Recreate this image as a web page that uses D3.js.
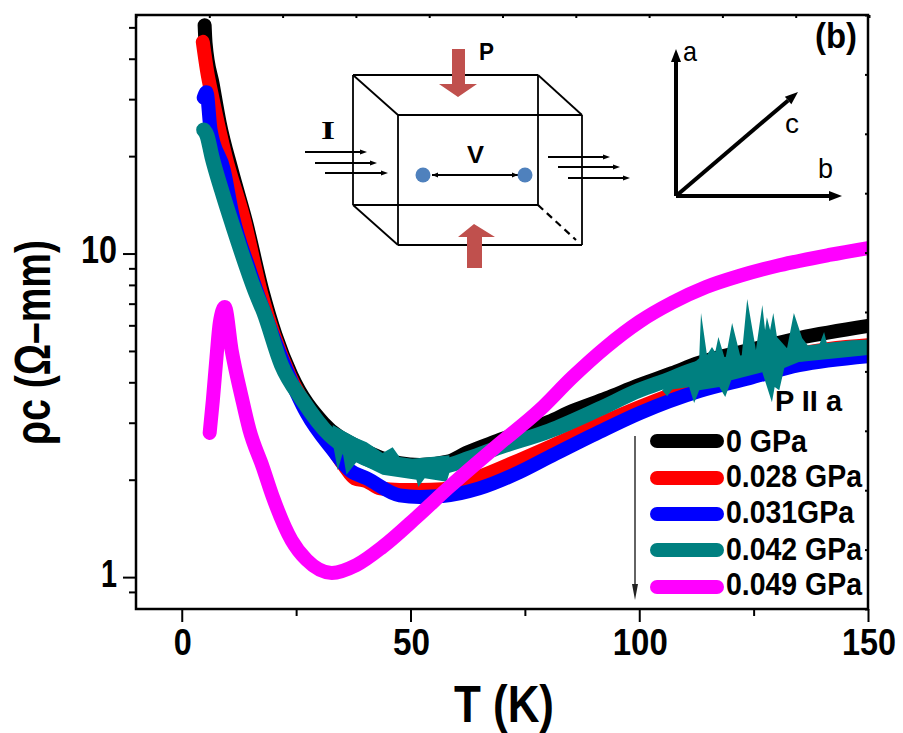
<!DOCTYPE html>
<html><head><meta charset="utf-8">
<script src="https://cdn.jsdelivr.net/npm/d3@7/dist/d3.min.js"></script>
<style>html,body{margin:0;padding:0;background:#fff}svg{display:block}text{font-family:"Liberation Sans",Arial,sans-serif}</style>
</head><body><svg id="c" width="903" height="733"></svg>
<script>
const seriesNames = ["0 GPa","0.028 GPa","0.031GPa","0.042 GPa","0.049 GPa"];
const seriesColors = ["#000000","#ff0000","#0000ff","#008080","#ff00ff"];
const T0 = [5,5.2,6.8,8.3,10.9,14,17.7,20.5,24,31,38.9,47.6,52,58.5,62.2,69.4,80.3,85.4,92.8,100,107.2,113,124,135,150];
const R0 = [50.8,44.8,33.2,25.3,18.1,12.6,7.6,5.6,4.2,2.99,2.51,2.25,2.22,2.28,2.42,2.65,3.02,3.26,3.57,3.92,4.27,4.59,5.03,5.48,5.97];
const T1 = [4.6,5.5,6.8,9.6,13.5,17.4,23.6,30.6,35.6,37.8,40.4,43.4,47.6,52,57,65,73.8,80.3,91.3,100,113,124,134.9,150];
const R1 = [45.1,36.9,29.8,19.9,12.9,7.5,4.2,2.85,2.2,2.02,1.98,1.88,1.86,1.86,1.87,2.04,2.3,2.52,2.97,3.35,3.92,4.36,4.89,5.21];
const T2 = [4.8,5.4,6.3,9.2,11.1,14.8,17.5,22.5,27.3,33,36.7,40.4,47.6,52,57,65,73.8,80.3,91.3,100,113.1,124,134.9,150];
const R2 = [30.3,31.5,24.1,18.1,13.15,8.9,6.9,4.5,3.21,2.47,2.14,2.02,1.79,1.77,1.78,1.88,2.11,2.35,2.81,3.21,3.76,4.12,4.52,4.82];
const T3 = [4.8,5.5,6.6,8.7,11.1,16.2,17.9,21.8,26.4,32.3,36.7,43.2,49.8,56.3,62.9,69.4,80.3,91.3,100,106,113.1,124,135,150];
const R3 = [24.1,23.2,19.9,15.7,12.25,7.55,6.6,4.52,3.52,2.75,2.47,2.25,2.19,2.19,2.33,2.52,2.83,3.31,3.78,4.06,4.43,4.62,4.89,5.14];
// noise envelope of the 0.042 GPa trace: upper and lower edges, low T
const noiseLowUpT = [33,38.2,40.4,43.9,46.1,47.6,50.4,58.5];
const noiseLowUpR = [2.95,2.69,2.61,2.42,2.52,2.35,2.32,2.38];
const noiseLowDnT = [33,34.1,35.2,36,38.2,43.9,51.3,51.7,53.1,57.9,58.5];
const noiseLowDnR = [2.6,2.14,2.42,2.07,2.27,2.07,2.0,1.90,2.02,1.97,2.1];
// noise envelope of the 0.042 GPa trace: upper and lower edges, high T
const noiseHighUpT = [113.1,113.5,114.8,115.9,116.6,117.3,118.8,120.3,122.3,123.6,125.5,126.9,127.5,127.9,128.6,129.3,130.1,132.3,133.8,135.6,137.1,139.3,140.4,141,146.5,150];
const noiseHighUpR = [4.75,6.55,4.86,5.14,4.95,5.52,4.69,6.10,4.69,7.23,5.03,6.93,5.8,6.36,5.8,6.55,5.52,5.1,6.55,5.48,5.14,5.21,5.72,5.29,5.40,5.40];
const noiseHighDnT = [105,106.1,107.2,110.9,112,113.1,117.5,118.8,120.1,126.9,129.0,129.6,130.6,131.7,134.9,150];
const noiseHighDnR = [3.78,3.62,3.80,3.87,3.45,3.78,3.87,3.60,4.06,4.30,3.47,3.87,3.78,4.43,4.62,4.86];
const T4 = [6.1,6.8,7.6,8.3,9.4,10.9,13.1,14.8,17.7,19.9,24,27.3,32.8,38.2,43.9,51.3,58.5,69.4,78.2,85.4,92.8,100,107.2,114.6,121.8,130.6,141.5,150];
const R4 = [2.79,3.52,4.79,6.1,6.83,5.03,3.6,2.85,2.19,1.77,1.3,1.13,1.03,1.09,1.24,1.53,1.9,2.58,3.28,4.15,5.15,6.15,7.05,7.88,8.52,9.2,9.9,10.4];
const xMajor = [0,50,100,150];
const xMinor = [25,75,125];
const yMajor = [1,10];
const yMinor = [0.9,2,3,4,5,6,7,8,9,20,30,40,50];
const xs=[T0,T1,T2,T3,T4], ys=[R0,R1,R2,R3,R4];

const svg=d3.select("#c");
const L=136,Rt=868,Tp=15,B=609;
const x=d3.scaleLinear().domain([-10,150]).range([L,Rt]);
const y=d3.scaleLog().domain([0.797,54.6]).range([B,Tp]);
const line=d3.line().x(d=>x(d[0])).y(d=>y(d[1])).curve(d3.curveMonotoneX);
const poly=d3.line().x(d=>x(d[0])).y(d=>y(d[1]));
const pairs=(a,b)=>a.map((v,j)=>[v,b[j]]);
svg.append("defs").append("clipPath").attr("id","pc").append("rect").attr("x",L).attr("y",Tp).attr("width",Rt-L).attr("height",B-Tp);
const plot=svg.append("g").attr("clip-path","url(#pc)");
xs.forEach((t,i)=>{
  plot.append("path").attr("d",line(pairs(t,ys[i]))).attr("fill","none")
   .attr("stroke",seriesColors[i]).attr("stroke-width",i===3?15:14)
   .attr("stroke-linecap","round").attr("stroke-linejoin","round");
  if(i===3){
    [[noiseLowUpT,noiseLowUpR,noiseLowDnT,noiseLowDnR],[noiseHighUpT,noiseHighUpR,noiseHighDnT,noiseHighDnR]].forEach(e=>{
      const up=pairs(e[0],e[1]), dn=pairs(e[2],e[3]).reverse();
      plot.append("path").attr("d",poly(up.concat(dn))+"Z").attr("fill",seriesColors[3]);
    });
  }
});
function txt(s,px,py,size,len,opts={}){
  const t=svg.append("text").attr("x",px).attr("y",py).attr("font-size",size)
   .attr("font-weight",opts.normal?"normal":"bold").attr("fill","#000").attr("text-anchor",opts.anchor||"start").text(s);
  if(opts.family)t.style("font-family",opts.family);
  if(len)t.attr("textLength",len).attr("lengthAdjust","spacingAndGlyphs");
  return t;
}

// schematic inset
const ink="#000";
const schemLines=[[353,75,538,75],[353,205,538,205],[353,75,353,205],[538,75,538,205],[398,115,582,115],[398,245,582,245],[398,115,398,245],[582,115,582,245],[353,75,398,115],[538,75,582,115],[353,205,398,245]];
const ins=svg.append("g");
schemLines.forEach(l=>ins.append("line").attr("x1",l[0]).attr("y1",l[1]).attr("x2",l[2]).attr("y2",l[3]).attr("stroke",ink).attr("stroke-width",1.8));
ins.append("line").attr("x1",538).attr("y1",205).attr("x2",576).attr("y2",240).attr("stroke",ink).attr("stroke-width",2.2).attr("stroke-dasharray","7 5");
ins.append("polygon").attr("points","452,49 465,49 465,84 477,84 458,97 439,84 452,84").attr("fill","#c0504d");
ins.append("polygon").attr("points","467,268 482,268 482,237 495,237 474,224 458,237 467,237").attr("fill","#c0504d");
function arrow(x1,y1,x2,y2,w,h,sw,col){
  const a=Math.atan2(y2-y1,x2-x1),c=Math.cos(a),s=Math.sin(a);
  const bx=x2-h*c,by=y2-h*s;
  ins.append("line").attr("x1",x1).attr("y1",y1).attr("x2",bx).attr("y2",by).attr("stroke",col||ink).attr("stroke-width",sw);
  ins.append("polygon").attr("points",[[x2,y2],[bx-w/2*s,by+w/2*c],[bx+w/2*s,by-w/2*c]].map(p=>p.join(",")).join(" ")).attr("fill",col||ink);
}
[[305,152,367,152],[315,163,377,163],[325,173,388,173],[548,157,610,157],[558,167,620,167],[568,178,630,178]].forEach(a=>arrow(a[0],a[1],a[2],a[3],5,7,1.8));
arrow(432,175,518,175,5,6,1.8);arrow(518,175,432,175,5,6,1.8);
[423,525].forEach(cx=>ins.append("circle").attr("cx",cx).attr("cy",175).attr("r",7.5).attr("fill","#4f81bd"));
txt("P",479,60,24,15);
txt("I",321,139,25,14,{family:"'Liberation Serif'"});
txt("V",467,163,24,17);

// crystal axes
arrow(676,196,676,49,10,13,4);
arrow(676,196,842,196,10,13,4);
arrow(676,196,798,92,10,13,4);
txt("a",683,61,28,14,{normal:true});
txt("b",818,178,28,15,{normal:true});
txt("c",785,133,28,14,{normal:true});
txt("(b)",815,48,35,42);

// legend
const legY=[441,478,514,550,587], legLen=[81,136,128,136,136], legBase=[452,487,523,560,595];
seriesNames.forEach((n,i)=>{
  svg.append("line").attr("x1",657).attr("x2",717).attr("y1",legY[i]).attr("y2",legY[i]).attr("stroke",seriesColors[i]).attr("stroke-width",14).attr("stroke-linecap","round");
  txt(n,726,legBase[i],31,legLen[i]);
});
txt("P II a",775,411,29,67);
arrow(635,436,635,600,6,16,1.4,"#222");

// axes
const ax=svg.append("g");
const tick=(g,f,gen)=>g.append("g").attr("transform",f).call(gen).call(s=>{s.selectAll("text").remove();s.select(".domain").remove();s.selectAll("line").attr("stroke","#000").attr("stroke-width",2);});
tick(ax,`translate(0,${B})`,d3.axisBottom(x).tickValues(xMajor).tickSize(13));
tick(ax,`translate(0,${B})`,d3.axisBottom(x).tickValues(xMinor).tickSize(7));
tick(ax,`translate(${L},0)`,d3.axisLeft(y).tickValues(yMajor).tickSize(13));
tick(ax,`translate(${L},0)`,d3.axisLeft(y).tickValues(yMinor).tickSize(7));
const topS=d3.scaleLinear().domain([0,10]).range([L,Rt+1]);
const rightS=d3.scaleLinear().domain([0,10]).range([Tp,B]);
tick(ax,`translate(0,${Tp})`,d3.axisTop(topS).ticks(10).tickSize(-3));
tick(ax,`translate(${Rt},0)`,d3.axisRight(rightS).ticks(10).tickSize(-3));
svg.append("rect").attr("x",L).attr("y",Tp).attr("width",Rt-L).attr("height",B-Tp).attr("fill","none").attr("stroke","#000").attr("stroke-width",2.5);

xMajor.forEach((v,i)=>txt(String(v),x(v)+1,655,37,[18,37,55,54][i],{anchor:"middle"}));
yMajor.forEach(v=>txt(String(v),117,v===10?263:587,39,v===10?36:16,{anchor:"end"}));
txt("T (K)",454,722,51,100);
svg.append("text").attr("transform","translate(50,445) rotate(-90)").attr("font-size",50).attr("font-weight","bold").attr("fill","#000").attr("textLength",205).attr("lengthAdjust","spacingAndGlyphs").text("ρc (Ω–mm)");
</script></body></html>
